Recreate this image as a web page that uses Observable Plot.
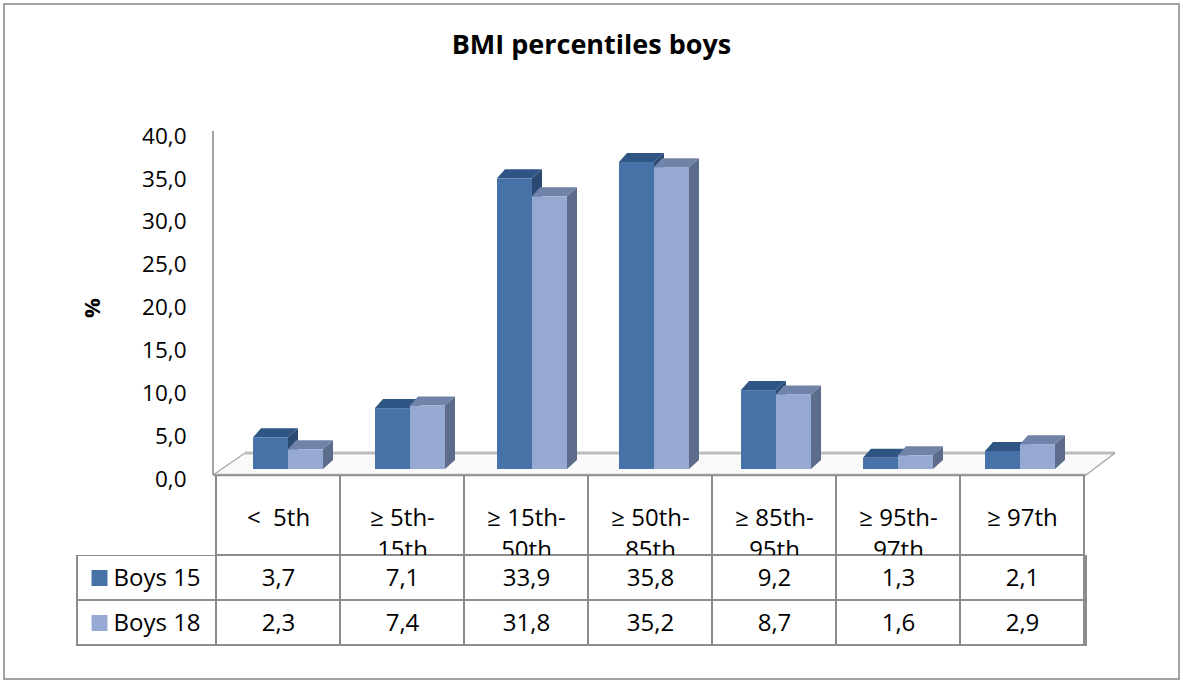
<!DOCTYPE html>
<html><head><meta charset="utf-8">
<script src="https://cdn.jsdelivr.net/npm/d3@7"></script>
<script src="https://cdn.jsdelivr.net/npm/@observablehq/plot@0.6"></script>
<style>
html,body{margin:0;padding:0;background:#fff;}
#wrap{position:relative;width:1183px;height:681px;overflow:hidden;font-family:"Open Sans",sans-serif;background:#fff;}
#wrap svg{position:absolute;left:0;}
#title{position:absolute;left:0;width:1183px;top:30px;line-height:27px;text-align:center;font-weight:bold;font-size:27px;color:#000;}
#border{position:absolute;left:3px;top:3px;width:1173px;height:673px;border:2px solid #a3a3a3;pointer-events:none;}
</style></head><body>
<div id="wrap"><div id="title">BMI percentiles boys</div></div>
<script>
// ---- data ----
const categories = ["< 5th", "≥ 5th-15th", "≥ 15th-50th", "≥ 50th-85th", "≥ 85th-95th", "≥ 95th-97th", "≥ 97th"];
const headerLabels = ["<  5th", "≥ 5th-\n15th", "≥ 15th-\n50th", "≥ 50th-\n85th", "≥ 85th-\n95th", "≥ 95th-\n97th", "≥ 97th"];
const seriesNames = ["Boys 15", "Boys 18"];
const boys15 = [3.7, 7.1, 33.9, 35.8, 9.2, 1.3, 2.1];
const boys18 = [2.3, 7.4, 31.8, 35.2, 8.7, 1.6, 2.9];
const yTicks = [0, 5, 10, 15, 20, 25, 30, 35, 40];

const seriesValues = [boys15, boys18];
const frontColors = ["#4672a8", "#96a9d2"];
const topColors = ["#2f5584", "#7083a8"];
const sideColors = ["#2a4a74", "#5d6c8a"];
const gridColor = "#8c8c8c";
const fmt = v => v.toFixed(1).replace(".", ",");
const DX = 10, DY = -9;

const rows = seriesNames.flatMap((s, si) => categories.map((c, i) => ({series: s, cat: c, value: seriesValues[si][i]})));

function floor(index, scales, values, dims) {
  const y0 = scales.y(0);
  const fl = dims.marginLeft, fr = dims.width - dims.marginRight;
  const fy = y0 + 6, by = y0 - 16;
  const g = d3.create("svg:g");
  g.append("path").attr("d", `M${fl},${fy}L${fr},${fy}L${fr + 29},${by}L${fl + 32},${by}Z`).attr("fill", "#fafafa");
  g.append("line").attr("x1", fl + 32).attr("x2", fr + 29).attr("y1", by).attr("y2", by).attr("stroke", "#bdbdbd").attr("stroke-width", 3);
  g.append("line").attr("x1", fl).attr("x2", fl + 32).attr("y1", fy).attr("y2", by).attr("stroke", "#a8a8a8").attr("stroke-width", 1.2);
  g.append("line").attr("x1", fr).attr("x2", fr + 29).attr("y1", fy).attr("y2", by).attr("stroke", "#a8a8a8").attr("stroke-width", 1.5);
  g.append("line").attr("x1", fl).attr("x2", fr).attr("y1", fy).attr("y2", fy).attr("stroke", "#a3a3a3").attr("stroke-width", 2.5);
  g.append("line").attr("x1", fl).attr("x2", fl).attr("y1", scales.y(40) + 5).attr("y2", fy).attr("stroke", "#a3a3a3").attr("stroke-width", 2);
  return g.node();
}

function faces(si) {
  return (index, scales, values, dims) => {
    const x = scales.x, y = scales.y;
    const bw = (x.bandwidth ? x.bandwidth() : scales.scales.x.bandwidth) / 2;
    const g = d3.create("svg:g");
    categories.forEach((c, i) => {
      const x0 = x(c) + si * bw, x1 = x0 + bw;
      const yt = y(seriesValues[si][i]), yb = y(0);
      g.append("path").attr("d", `M${x1},${yt}L${x1 + DX},${yt + DY}L${x1 + DX},${yb + DY}L${x1},${yb}Z`).attr("fill", sideColors[si]);
      g.append("path").attr("d", `M${x0},${yt}L${x0 + DX - 2},${yt + DY}L${x1 + DX},${yt + DY}L${x1},${yt}Z`).attr("fill", topColors[si]);
    });
    return g.node();
  };
}

const wrap = document.getElementById("wrap");

const chart = Plot.plot({
  width: 1183, height: 500,
  marginTop: 126, marginBottom: 31, marginLeft: 213, marginRight: 97,
  style: {background: "transparent", fontFamily: "Open Sans", color: "#000"},
  x: {type: "band", domain: categories, range: [225.35, 1081.65], paddingInner: 0.428, paddingOuter: 0.214, axis: null},
  y: {domain: [0, 40]},
  marks: [
    floor,
    faces(0),
    Plot.barY(rows.filter(d => d.series === seriesNames[0]), {x: "cat", y: "value", fill: frontColors[0], insetRight: 35}),
    faces(1),
    Plot.barY(rows.filter(d => d.series === seriesNames[1]), {x: "cat", y: "value", fill: frontColors[1], insetLeft: 35}),
    Plot.axisY({ticks: yTicks, tickFormat: fmt, tickSize: 0, tickPadding: 27, dy: 10, fontSize: 22.5, label: null}),
    Plot.text(["%"], {frameAnchor: "left", rotate: -90, dx: -121, dy: 20, fontWeight: "bold", fontSize: 22})
  ]
});
chart.style.top = "0px";
wrap.appendChild(chart);

const header = Plot.plot({
  width: 1183, height: 80,
  marginTop: 0, marginBottom: 0, marginLeft: 213, marginRight: 97,
  style: {background: "transparent", fontFamily: "Open Sans", color: "#000"},
  x: {type: "band", domain: categories, padding: 0, axis: null},
  marks: [
    Plot.cell(categories, {x: d => d, fill: "none", stroke: gridColor, strokeWidth: 2}),
    Plot.text(categories, {x: d => d, text: (d, i) => headerLabels[i], frameAnchor: "top", lineAnchor: "top", dy: 27, fontSize: 24, lineHeight: 1.35})
  ]
});
header.style.top = "475px";
wrap.appendChild(header);

const table = Plot.plot({
  width: 1183, height: 126,
  marginTop: 0, marginBottom: 36, marginLeft: 77, marginRight: 97,
  style: {background: "transparent", fontFamily: "Open Sans", color: "#000"},
  x: {type: "band", domain: categories, range: [213, 1086], padding: 0, axis: null},
  y: {type: "band", domain: seriesNames, padding: 0, axis: null},
  marks: [
    Plot.cell(seriesNames, {y: d => d, fill: "white", stroke: gridColor, strokeWidth: 2}),
    Plot.cell(rows, {x: "cat", y: "series", fill: "white", stroke: gridColor, strokeWidth: 2}),
    Plot.text(rows, {x: "cat", y: "series", text: d => fmt(d.value), fontSize: 24}),
    Plot.dot(seriesNames, {y: d => d, frameAnchor: "left", dx: 22, symbol: "square", r: 9, fill: (d, i) => frontColors[i]}),
    Plot.text(seriesNames, {y: d => d, text: d => d, frameAnchor: "left", textAnchor: "start", dx: 36, fontSize: 24})
  ]
});
table.style.top = "555px";
wrap.appendChild(table);

const border = document.createElement("div");
border.id = "border";
wrap.appendChild(border);
</script>
</body></html>
